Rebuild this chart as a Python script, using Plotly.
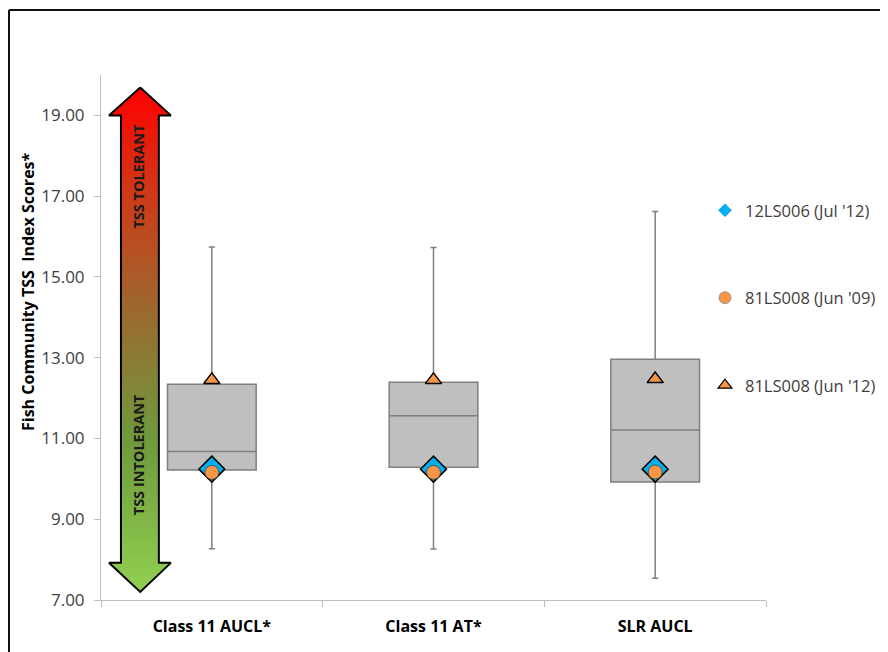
import plotly.graph_objects as go

categories = ["Class 11 AUCL*", "Class 11 AT*", "SLR AUCL"]
whisker_low = [8.27, 8.26, 7.54]
q1 = [10.22, 10.29, 9.92]
median = [10.68, 11.56, 11.21]
q3 = [12.34, 12.39, 12.96]
whisker_high = [15.74, 15.73, 16.62]

site_12LS006_jul12 = [10.24, 10.24, 10.24]
site_81LS008_jun09 = [10.16, 10.16, 10.17]
site_81LS008_jun12 = [12.45, 12.45, 12.47]

legend_names = ["12LS006 (Jul '12)", "81LS008 (Jun '09)", "81LS008 (Jun '12)"]
y_ticks = [7, 9, 11, 13, 15, 17, 19]

# decorative double arrow (x in 0-1 overlay axis, y in score units)
arrow_x = [0.059, 0.105, 0.087, 0.087, 0.105, 0.059, 0.012, 0.030, 0.030, 0.012, 0.059]
arrow_y = [19.69, 19.0, 19.0, 7.92, 7.92, 7.20, 7.92, 7.92, 19.0, 19.0, 19.69]

FONT = "Open Sans"
# page is rendered with an 8px body margin; plot area wanted at page x 101-766, y 75-600
OFF = 8
PL, PR, PT, PB = 101, 766, 75, 600


def px(p):
    return (p - PL) / (PR - PL)


def py(p):
    return (PB - p) / (PB - PT)


fig = go.Figure()

fig.add_trace(go.Scatter(
    x=arrow_x, y=arrow_y, xaxis="x2", yaxis="y", mode="lines",
    fill="toself",
    fillgradient=dict(type="vertical", start=7.2, stop=19.69,
                      colorscale=[[0, "#92d050"], [0.3, "#6f9a3c"], [0.55, "#9a6a30"],
                                  [0.78, "#cc3c18"], [1, "#ff0000"]]),
    line=dict(color="#000000", width=2), showlegend=False, hoverinfo="skip"))

fig.add_trace(go.Box(
    x=categories, q1=q1, median=median, q3=q3,
    lowerfence=whisker_low, upperfence=whisker_high,
    fillcolor="#bfbfbf", line=dict(color="#7f7f7f", width=1.5),
    width=0.4, whiskerwidth=0.07, boxpoints=False, showlegend=False))

fig.add_trace(go.Scatter(
    x=categories, y=site_12LS006_jul12, mode="markers", showlegend=False,
    marker=dict(symbol="diamond", size=20, color="#00b0f0",
                line=dict(color="#000000", width=1.5))))
fig.add_trace(go.Scatter(
    x=categories, y=site_81LS008_jun09, mode="markers", showlegend=False,
    marker=dict(symbol="circle", size=14, color="#f79646",
                line=dict(color="#404040", width=0.8))))
fig.add_trace(go.Scatter(
    x=categories, y=site_81LS008_jun12, mode="markers", showlegend=False,
    marker=dict(symbol="triangle-up", size=14, color="#f79646",
                line=dict(color="#000000", width=1.5))))

leg_markers = [
    dict(symbol="diamond", size=10, color="#00b0f0", line=dict(color="#0090d0", width=0.5)),
    dict(symbol="circle", size=12, color="#f79646", line=dict(color="#707070", width=0.6)),
    dict(symbol="triangle-up", size=12, color="#f79646", line=dict(color="#000000", width=1.2)),
]
for i, (nm, mk) in enumerate(zip(legend_names, leg_markers)):
    fig.add_trace(go.Scatter(x=[None], y=[None], mode="markers", name=nm,
                             marker=mk, legendgroup=f"g{i}"))

fig.add_annotation(text="<b>TSS TOLERANT</b>", xref="x2", yref="y", x=0.056, y=17.49,
                   textangle=-90, showarrow=False, font=dict(family=FONT, size=14.5, color="#1a1a1a"))
fig.add_annotation(text="<b>TSS INTOLERANT</b>", xref="x2", yref="y", x=0.056, y=10.59,
                   textangle=-90, showarrow=False, font=dict(family=FONT, size=14.5, color="#1a1a1a"))
fig.add_annotation(text="<b>Fish Community TSS  Index Scores*</b>", xref="paper", yref="paper",
                   x=px(28), y=py(292), xanchor="center", yanchor="middle",
                   textangle=-90, showarrow=False,
                   font=dict(family=FONT, size=16, color="#000000"))

# outer frame (left edge of page sits 8px off)
fx = px(OFF + 1)
fy = py(10)
fig.add_shape(type="line", xref="paper", yref="paper", x0=fx, y0=fy, x1=1.3, y1=fy,
              line=dict(color="#111111", width=2))
fig.add_shape(type="line", xref="paper", yref="paper", x0=fx, y0=fy, x1=fx, y1=-0.3,
              line=dict(color="#111111", width=2))

fig.update_layout(
    width=888, height=652,
    margin=dict(l=PL - OFF, r=888 - (PR - OFF), t=PT - OFF, b=652 - (PB - OFF)),
    paper_bgcolor="white", plot_bgcolor="white",
    font=dict(family=FONT, color="#404040"),
    xaxis=dict(type="category", categoryorder="array", categoryarray=categories,
               range=[-0.5, 2.5], showgrid=False, showline=True, linecolor="#bfbfbf",
               linewidth=1, ticks="outside", tickson="boundaries", ticklen=6, tickcolor="#bfbfbf",
               ticklabelstandoff=12,
               tickfont=dict(family=FONT, size=16, color="#000000"),
               tickprefix="<b>", ticksuffix="</b>", zeroline=False),
    xaxis2=dict(overlaying="x", range=[0, 1], visible=False, fixedrange=True),
    yaxis=dict(range=[7, 20], tickvals=y_ticks, tickformat=".2f", showgrid=False,
               showline=True, linecolor="#bfbfbf", linewidth=1, ticks="outside",
               ticklen=6, tickcolor="#bfbfbf", zeroline=False, ticklabelstandoff=6,
               tickfont=dict(family=FONT, size=17, color="#404040")),
    showlegend=True,
    legend=dict(x=px(705), y=py(193), xanchor="left", yanchor="top",
                tracegroupgap=63, bgcolor="rgba(0,0,0,0)",
                font=dict(family=FONT, size=16.5, color="#404040")),
)

fig.write_html("out.html")
